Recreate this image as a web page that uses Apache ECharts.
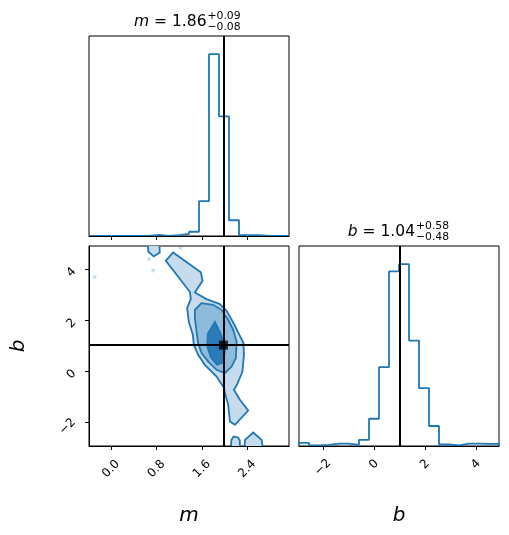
<!DOCTYPE html>
<html>
<head>
<meta charset="utf-8">
<script src="https://cdn.jsdelivr.net/npm/echarts@6/dist/echarts.min.js"></script>
<style>
html, body { margin: 0; padding: 0; background: #fff; }
#chart { width: 509px; height: 535px; }
</style>
</head>
<body>
<div id="chart"></div>
<script>
// axis ranges and ticks
var mRange = [-0.388, 3.136];
var bRange = [-2.935, 4.905];
var mTicks = [0, 0.8, 1.6, 2.4];
var bTicks = [-2, 0, 2, 4];
var mTruth = 1.98;
var bTruth = 1.02;

// 1D histograms, 20 bins over the axis range
var mCounts = [0, 0, 0, 0, 0, 0, 4, 0, 3, 7, 14, 115, 600, 395, 52, 3, 3, 0, 0, 0];
var bCounts = [10, 2, 4, 8, 8, 4, 20, 90, 260, 576, 600, 348, 191, 66, 5, 2, 8, 8, 7, 7];

// 2D contour levels [m, b]
var outerMain = [
    [1.094, 4.651], [1.583, 3.875], [1.613, 3.541], [1.477, 3.082], [1.683, 2.824],
    [1.918, 2.627], [2.036, 2.365], [2.153, 1.906], [2.271, 1.384], [2.333, 1.110],
    [2.342, 0.639], [2.315, -0.027], [2.218, -0.537], [2.165, -0.733], [2.271, -1.125],
    [2.417, -1.545], [2.183, -2.106], [2.095, -1.976], [2.065, -1.322], [2.015, -0.929],
    [1.989, -0.655], [1.860, -0.212], [1.653, 0.247], [1.535, 0.639], [1.459, 1.031],
    [1.442, 1.424], [1.371, 1.933], [1.341, 2.471], [1.406, 2.835], [1.389, 3.110],
    [0.965, 4.325]
];
var outerTop = [[0.640, 5.1], [0.658, 4.678], [0.753, 4.494], [0.859, 4.651], [0.851, 5.1]];
var outerBottomA = [[2.11, -3.1], [2.12, -2.70], [2.16, -2.565], [2.24, -2.60], [2.27, -2.72], [2.27, -3.1]];
var outerBottomB = [[2.35, -3.1], [2.36, -2.694], [2.506, -2.408], [2.654, -2.694], [2.68, -3.1]];
var midLevel = [
    [1.477, 2.404], [1.595, 2.667], [1.800, 2.600], [1.948, 2.404], [2.065, 2.012],
    [2.153, 1.620], [2.213, 1.161], [2.200, 0.510], [2.125, 0.180], [2.006, -0.078],
    [1.860, 0.051], [1.712, 0.376], [1.595, 0.706], [1.535, 1.098], [1.507, 1.553],
    [1.477, 2.078]
];
var innerLevel = [
    [1.830, 1.933], [1.925, 1.502], [1.995, 1.110], [2.005, 0.757], [1.960, 0.330],
    [1.865, 0.250], [1.755, 0.560], [1.695, 0.992], [1.706, 1.463]
];
// stray samples outside the contours
var strayPoints = [[-0.288, 3.686], [0.671, 4.392], [0.741, 3.945], [1.225, 4.835]];

var blue = '#1f77b4';
var contours = [
    { points: outerMain, fill: '#c6dbec' },
    { points: outerTop, fill: '#c6dbec' },
    { points: outerBottomA, fill: '#c6dbec' },
    { points: outerBottomB, fill: '#c6dbec' },
    { points: midLevel, fill: '#8ebbdb' },
    { points: innerLevel, fill: '#2a7bb8' }
];

function stepPoints(range, counts) {
    var w = (range[1] - range[0]) / counts.length;
    var pts = [[range[0], 0]];
    for (var i = 0; i < counts.length; i++) {
        pts.push([range[0] + i * w, counts[i]]);
        pts.push([range[0] + (i + 1) * w, counts[i]]);
    }
    pts.push([range[1], 0]);
    return pts;
}

function minus(v) {
    return String(v).replace('-', '\u2212');
}

var font = 'DejaVu Sans';
var tickFont = 12;
var titleFont = 15.5;
var scriptFont = 10.8;
var nameFont = 20;
var tickStyle = { show: true, length: 4, lineStyle: { color: '#000', width: 1 } };
var frame = { show: true, borderColor: '#000', borderWidth: 1, backgroundColor: 'transparent' };
var axisLine = { show: true, onZero: false, lineStyle: { color: '#000', width: 1 } };
var truthLine = { color: '#000', width: 2, type: 'solid' };
var nameStyle = { fontSize: nameFont, fontStyle: 'italic', fontFamily: font, color: '#000' };
var tickText = { fontSize: tickFont, fontFamily: font, color: '#000' };

// rotated labels are centred on the tick like matplotlib; short labels get padding
function rotatedLabel(margin, shortPad, longPad, fmt) {
    return {
        rotate: 45, margin: margin, align: 'center', verticalAlign: 'middle',
        formatter: function (v) {
            var s = fmt(v);
            return (s.length > 1 ? '{l|' : '{s|') + s + '}';
        },
        rich: {
            l: Object.assign({ padding: longPad }, tickText),
            s: Object.assign({ padding: shortPad }, tickText)
        }
    };
}

var myChart = echarts.init(document.getElementById('chart'), null, { renderer: 'canvas' });

var option = {
    animation: false,
    backgroundColor: '#fff',
    grid: [
        Object.assign({ left: 89, top: 36, width: 200, height: 200 }, frame),
        Object.assign({ left: 89, top: 246, width: 200, height: 200 }, frame),
        Object.assign({ left: 299, top: 246, width: 200, height: 200 }, frame)
    ],
    xAxis: [
        {
            gridIndex: 0, type: 'value', min: mRange[0], max: mRange[1], z: 10,
            axisLine: axisLine,
            axisTick: Object.assign({ customValues: mTicks }, tickStyle),
            axisLabel: { show: false },
            splitLine: { show: false }
        },
        {
            gridIndex: 1, type: 'value', min: mRange[0], max: mRange[1], z: 10,
            axisLine: axisLine,
            axisTick: Object.assign({ customValues: mTicks }, tickStyle),
            axisLabel: Object.assign({ customValues: mTicks },
                rotatedLabel(23, [0, 0, 0, 0], [0, 0, 0, 0], function (v) { return minus(v.toFixed(1)); })),
            splitLine: { show: false },
            name: 'm', nameLocation: 'middle', nameGap: 60,
            nameTextStyle: nameStyle
        },
        {
            gridIndex: 2, type: 'value', min: bRange[0], max: bRange[1], z: 10,
            axisLine: axisLine,
            axisTick: Object.assign({ customValues: bTicks }, tickStyle),
            axisLabel: Object.assign({ customValues: bTicks },
                rotatedLabel(21.5, [0, 0, 4.5, 4.5], [0, 0, 0, 0], minus)),
            splitLine: { show: false },
            name: 'b', nameLocation: 'middle', nameGap: 60,
            nameTextStyle: nameStyle
        }
    ],
    yAxis: [
        {
            gridIndex: 0, type: 'value', min: 0, max: 660,
            axisLine: { show: false }, axisTick: { show: false },
            axisLabel: { show: false }, splitLine: { show: false }
        },
        {
            gridIndex: 1, type: 'value', min: bRange[0], max: bRange[1], z: 10,
            axisLine: axisLine,
            axisTick: Object.assign({ customValues: bTicks }, tickStyle),
            axisLabel: Object.assign({ customValues: bTicks },
                rotatedLabel(21.5, [10.3, 0, 0, 1], [6.2, 6.2, 0, 0], minus)),
            splitLine: { show: false },
            name: 'b', nameLocation: 'middle', nameGap: 60, nameRotate: 90,
            nameTextStyle: nameStyle
        },
        {
            gridIndex: 2, type: 'value', min: 0, max: 660,
            axisLine: { show: false }, axisTick: { show: false },
            axisLabel: { show: false }, splitLine: { show: false }
        }
    ],
    graphic: [
        { type: 'text', x: 206.5, y: 22, style: { text: '{i|m} = 1.86', rich: { i: { fontStyle: 'italic', fontSize: titleFont, fontFamily: font } }, fontSize: titleFont, fontFamily: font, fill: '#000', align: 'right', verticalAlign: 'middle' } },
        { type: 'text', x: 207.5, y: 15.7, style: { text: '+0.09', fontSize: scriptFont, fontFamily: font, fill: '#000', align: 'left', verticalAlign: 'middle' } },
        { type: 'text', x: 207.5, y: 27.5, style: { text: '\u22120.08', fontSize: scriptFont, fontFamily: font, fill: '#000', align: 'left', verticalAlign: 'middle' } },
        { type: 'text', x: 415, y: 232.2, style: { text: '{i|b} = 1.04', rich: { i: { fontStyle: 'italic', fontSize: titleFont, fontFamily: font } }, fontSize: titleFont, fontFamily: font, fill: '#000', align: 'right', verticalAlign: 'middle' } },
        { type: 'text', x: 416, y: 225.7, style: { text: '+0.58', fontSize: scriptFont, fontFamily: font, fill: '#000', align: 'left', verticalAlign: 'middle' } },
        { type: 'text', x: 416, y: 237.5, style: { text: '\u22120.48', fontSize: scriptFont, fontFamily: font, fill: '#000', align: 'left', verticalAlign: 'middle' } }
    ],
    series: [
        {
            name: 'm hist', type: 'line', xAxisIndex: 0, yAxisIndex: 0,
            data: stepPoints(mRange, mCounts), showSymbol: false, symbol: 'none',
            lineStyle: { color: blue, width: 1.8 }, clip: true,
            markLine: { silent: true, symbol: 'none', label: { show: false }, lineStyle: truthLine, data: [{ xAxis: mTruth }] }
        },
        {
            name: 'b hist', type: 'line', xAxisIndex: 2, yAxisIndex: 2,
            data: stepPoints(bRange, bCounts), showSymbol: false, symbol: 'none',
            lineStyle: { color: blue, width: 1.8 }, clip: true,
            markLine: { silent: true, symbol: 'none', label: { show: false }, lineStyle: truthLine, data: [{ xAxis: bTruth }] }
        },
        {
            name: 'contours', type: 'custom', xAxisIndex: 1, yAxisIndex: 1, clip: true,
            data: contours.map(function (c) { return c.points[0]; }),
            renderItem: function (params, api) {
                var c = contours[params.dataIndex];
                return {
                    type: 'polygon',
                    shape: { points: c.points.map(function (p) { return api.coord(p); }) },
                    style: { fill: c.fill, stroke: blue, lineWidth: 1.8 }
                };
            }
        },
        {
            name: 'stray', type: 'scatter', xAxisIndex: 1, yAxisIndex: 1,
            data: strayPoints, symbolSize: 4,
            itemStyle: { color: 'rgba(31,119,180,0.3)' }
        },
        {
            name: 'truth', type: 'scatter', xAxisIndex: 1, yAxisIndex: 1, z: 5,
            data: [[mTruth, bTruth]], symbol: 'rect', symbolSize: 9,
            itemStyle: { color: '#000' },
            markLine: { silent: true, symbol: 'none', label: { show: false }, lineStyle: truthLine, data: [{ xAxis: mTruth }, { yAxis: bTruth }] }
        }
    ]
};

myChart.setOption(option);
</script>
</body>
</html>
